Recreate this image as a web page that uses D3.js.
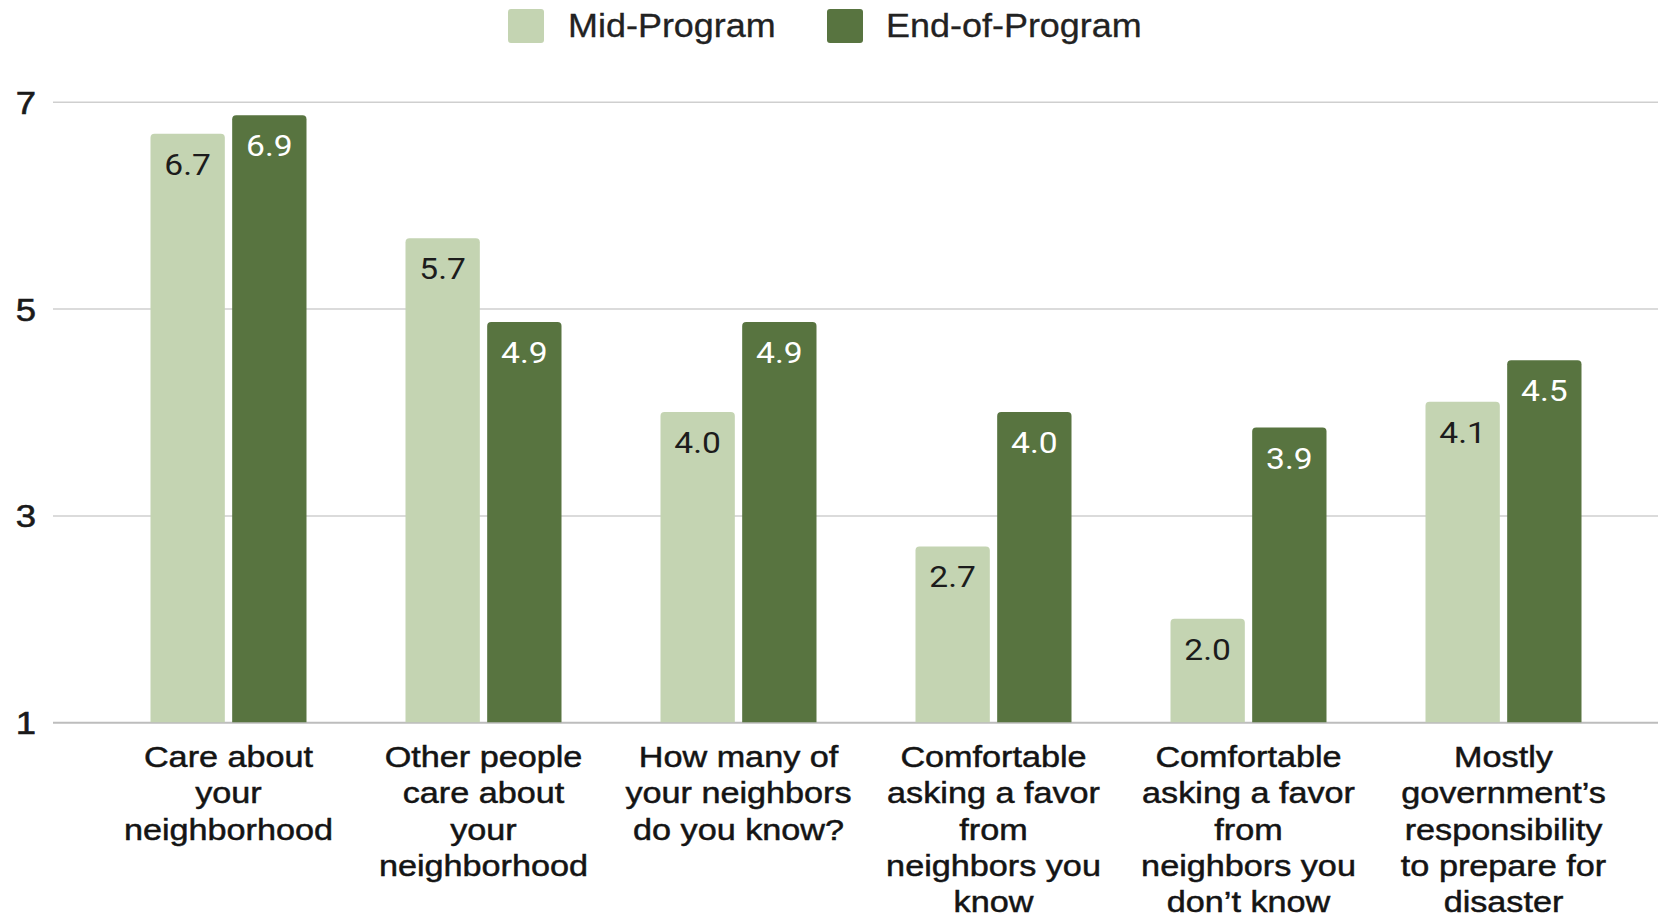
<!DOCTYPE html>
<html>
<head>
<meta charset="utf-8">
<script src="https://cdn.jsdelivr.net/npm/d3@7"></script>
<style>
  html, body { margin: 0; padding: 0; background: #fff; }
  svg { display: block; }
</style>
</head>
<body>
<svg id="chart" width="1658" height="920"></svg>
<script>
const categories = [
  ['Care about', 'your', 'neighborhood'],
  ['Other people', 'care about', 'your', 'neighborhood'],
  ['How many of', 'your neighbors', 'do you know?'],
  ['Comfortable', 'asking a favor', 'from', 'neighbors you', 'know'],
  ['Comfortable', 'asking a favor', 'from', 'neighbors you', 'don\u2019t know'],
  ['Mostly', 'government\u2019s', 'responsibility', 'to prepare for', 'disaster']
];
const seriesNames = ['Mid-Program', 'End-of-Program'];
const midValues = [6.69, 5.68, 4.0, 2.7, 2.0, 4.1];
const endValues = [6.87, 4.87, 4.87, 4.0, 3.85, 4.5];
const midLabels = ['6.7', '5.7', '4.0', '2.7', '2.0', '4.1'];
const endLabels = ['6.9', '4.9', '4.9', '4.0', '3.9', '4.5'];
const yTicks = [1, 3, 5, 7];

const colors = { mid: '#c4d4b2', end: '#587440' };
const sx = 1.14; // text in the source is stretched a bit wider

const svg = d3.select('#chart');
const width = 1658;
const gridLeft = 53;

const yScale = d3.scaleLinear().domain([1, 7]).range([722.3, 101.7]);
const x0 = d3.scaleBand().domain(d3.range(categories.length)).range([101, 1631]);
const x1 = d3.scaleBand().domain(['mid', 'end']).range([-78, 78]).paddingInner(0.09);

// gridlines + tick labels
const yAxis = d3.axisLeft(yScale).tickValues(yTicks).tickSize(-(width - gridLeft)).tickFormat(d3.format('d'));
const axisG = svg.append('g')
  .attr('transform', `translate(${gridLeft},0)`)
  .call(yAxis);
axisG.select('.domain').remove();
axisG.selectAll('.tick line')
  .attr('stroke', (d) => (d === 1 ? '#bdbdbd' : '#cfcfcf'))
  .attr('stroke-width', (d) => (d === 1 ? 2 : 1.6));
axisG.selectAll('.tick text')
  .attr('x', 0)
  .attr('dy', '0.36em')
  .attr('text-anchor', 'middle')
  .attr('transform', `translate(-27,0) scale(${sx},1)`)
  .attr('fill', '#1a1a1a')
  .attr('stroke', '#1a1a1a')
  .attr('stroke-width', 0.6)
  .style('font-family', '"Liberation Sans", Arial, sans-serif')
  .style('font-size', '32px');

// bars with rounded top corners
function barPath(x, y, w, h, r) {
  return `M${x},${y + h}V${y + r}Q${x},${y} ${x + r},${y}H${x + w - r}Q${x + w},${y} ${x + w},${y + r}V${y + h}Z`;
}

const rows = categories.map((c, i) => ({
  i,
  bars: [
    { key: 'mid', value: midValues[i], label: midLabels[i] },
    { key: 'end', value: endValues[i], label: endLabels[i] }
  ]
}));

const groups = svg.selectAll('.group')
  .data(rows)
  .enter()
  .append('g')
  .attr('class', 'group')
  .attr('transform', (d) => `translate(${x0(d.i) + x0.bandwidth() / 2},0)`);

groups.selectAll('path')
  .data((d) => d.bars)
  .enter()
  .append('path')
  .attr('fill', (d) => colors[d.key])
  .attr('d', (d) => {
    const top = yScale(d.value);
    return barPath(x1(d.key), top, x1.bandwidth(), yScale(1) - top, 4);
  });

groups.selectAll('text.val')
  .data((d) => d.bars)
  .enter()
  .append('text')
  .attr('class', 'val')
  .attr('text-anchor', 'middle')
  .attr('transform', (d) => `translate(${x1(d.key) + x1.bandwidth() / 2},${yScale(d.value) + 41}) scale(1.12,1)`)
  .attr('fill', (d) => (d.key === 'mid' ? '#1c1c1c' : '#ffffff'))
  .style('font-family', 'Roboto, "Noto Sans", sans-serif')
  .style('font-size', '30px')
  .text((d) => d.label);

// category labels
const catG = svg.append('g');
categories.forEach((lines, i) => {
  const t = catG.append('text')
    .attr('text-anchor', 'middle')
    .attr('transform', `translate(${x0(i) + x0.bandwidth() / 2},767) scale(${sx},1)`)
    .attr('fill', '#141414')
    .attr('stroke', '#141414')
    .attr('stroke-width', 0.5)
    .style('font-family', '"Liberation Sans", Arial, sans-serif')
    .style('font-size', '30px');
  lines.forEach((line, j) => {
    t.append('tspan').attr('x', 0).attr('y', j * 36.3).text(line);
  });
});

// legend
const legendItems = [
  { name: seriesNames[0], color: colors.mid, x: 508, tx: 568 },
  { name: seriesNames[1], color: colors.end, x: 827, tx: 886 }
];
const legend = svg.append('g').attr('class', 'legend');
legend.selectAll('rect')
  .data(legendItems)
  .enter()
  .append('rect')
  .attr('x', (d) => d.x)
  .attr('y', 9)
  .attr('width', 36)
  .attr('height', 34)
  .attr('rx', 3)
  .attr('fill', (d) => d.color);
legend.selectAll('text')
  .data(legendItems)
  .enter()
  .append('text')
  .attr('transform', (d) => `translate(${d.tx},37) scale(1.09,1)`)
  .attr('fill', '#222')
  .attr('stroke', '#222')
  .attr('stroke-width', 0.3)
  .style('font-family', '"Liberation Sans", Arial, sans-serif')
  .style('font-size', '33px')
  .text((d) => d.name);
</script>
</body>
</html>
